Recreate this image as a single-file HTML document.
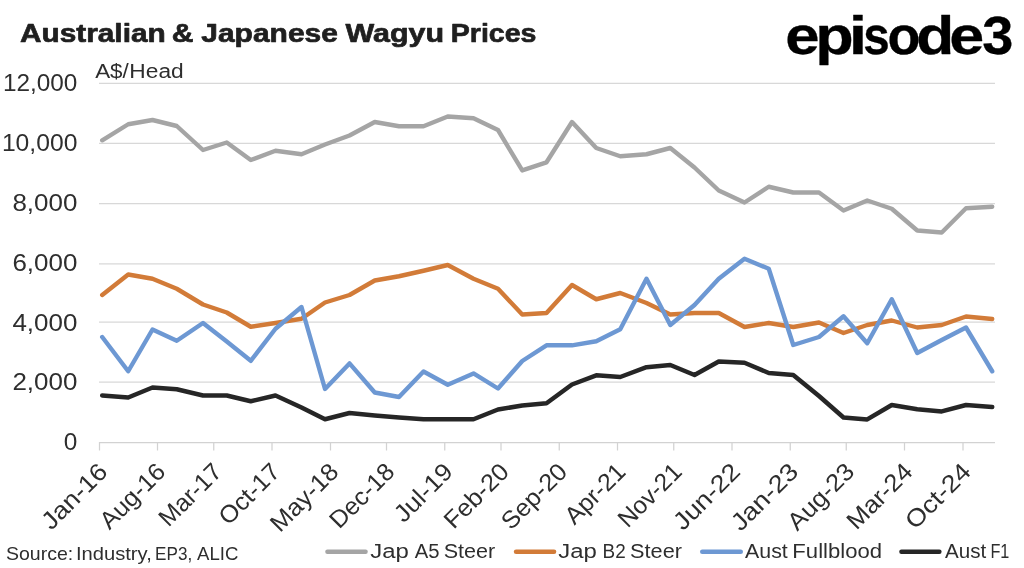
<!DOCTYPE html>
<html lang="en"><head><meta charset="utf-8"><title>Australian &amp; Japanese Wagyu Prices</title>
<style>html,body{margin:0;padding:0;background:#fff;}body{width:1024px;height:568px;overflow:hidden;}svg{display:block;}text{font-family:"Liberation Sans",sans-serif;fill:#2e2e2e;}.b{font-weight:bold;}.ln{fill:none;stroke-linejoin:round;stroke-linecap:round;}</style>
</head><body>
<svg width="1024" height="568" viewBox="0 0 1024 568">
<rect width="1024" height="568" fill="#ffffff"/>
<line x1="99" y1="83.4" x2="995" y2="83.4" stroke="#d8d8d8" stroke-width="1.25"/>
<line x1="99" y1="143.3" x2="995" y2="143.3" stroke="#d8d8d8" stroke-width="1.25"/>
<line x1="99" y1="203.5" x2="995" y2="203.5" stroke="#d8d8d8" stroke-width="1.25"/>
<line x1="99" y1="263.8" x2="995" y2="263.8" stroke="#d8d8d8" stroke-width="1.25"/>
<line x1="99" y1="322.0" x2="995" y2="322.0" stroke="#d8d8d8" stroke-width="1.25"/>
<line x1="99" y1="382.2" x2="995" y2="382.2" stroke="#d8d8d8" stroke-width="1.25"/>
<line x1="99" y1="442.5" x2="995" y2="442.5" stroke="#d2d2d2" stroke-width="1.25"/>
<line x1="99.5" y1="442" x2="99.5" y2="450.5" stroke="#d2d2d2" stroke-width="1.25"/>
<line x1="157.5" y1="442" x2="157.5" y2="450.5" stroke="#d2d2d2" stroke-width="1.25"/>
<line x1="213.75" y1="442" x2="213.75" y2="450.5" stroke="#d2d2d2" stroke-width="1.25"/>
<line x1="272" y1="442" x2="272" y2="450.5" stroke="#d2d2d2" stroke-width="1.25"/>
<line x1="330.5" y1="442" x2="330.5" y2="450.5" stroke="#d2d2d2" stroke-width="1.25"/>
<line x1="386.5" y1="442" x2="386.5" y2="450.5" stroke="#d2d2d2" stroke-width="1.25"/>
<line x1="444.75" y1="442" x2="444.75" y2="450.5" stroke="#d2d2d2" stroke-width="1.25"/>
<line x1="501" y1="442" x2="501" y2="450.5" stroke="#d2d2d2" stroke-width="1.25"/>
<line x1="559.25" y1="442" x2="559.25" y2="450.5" stroke="#d2d2d2" stroke-width="1.25"/>
<line x1="617.5" y1="442" x2="617.5" y2="450.5" stroke="#d2d2d2" stroke-width="1.25"/>
<line x1="673.75" y1="442" x2="673.75" y2="450.5" stroke="#d2d2d2" stroke-width="1.25"/>
<line x1="732" y1="442" x2="732" y2="450.5" stroke="#d2d2d2" stroke-width="1.25"/>
<line x1="790.25" y1="442" x2="790.25" y2="450.5" stroke="#d2d2d2" stroke-width="1.25"/>
<line x1="846.25" y1="442" x2="846.25" y2="450.5" stroke="#d2d2d2" stroke-width="1.25"/>
<line x1="904.5" y1="442" x2="904.5" y2="450.5" stroke="#d2d2d2" stroke-width="1.25"/>
<line x1="963" y1="442" x2="963" y2="450.5" stroke="#d2d2d2" stroke-width="1.25"/>
<text x="77.4" y="91" font-size="24.4" text-anchor="end" textLength="74.5" lengthAdjust="spacingAndGlyphs">12,000</text>
<text x="77.4" y="150.8" font-size="24.4" text-anchor="end" textLength="75.5" lengthAdjust="spacingAndGlyphs">10,000</text>
<text x="77.4" y="211" font-size="24.4" text-anchor="end" textLength="65" lengthAdjust="spacingAndGlyphs">8,000</text>
<text x="77.4" y="271" font-size="24.4" text-anchor="end" textLength="65" lengthAdjust="spacingAndGlyphs">6,000</text>
<text x="77.4" y="331" font-size="24.4" text-anchor="end" textLength="65" lengthAdjust="spacingAndGlyphs">4,000</text>
<text x="77.4" y="389.8" font-size="24.4" text-anchor="end" textLength="65" lengthAdjust="spacingAndGlyphs">2,000</text>
<text x="77.4" y="449.5" font-size="24.4" text-anchor="end">0</text>
<text transform="translate(109.00,473.2) rotate(-45)" font-size="24.4" text-anchor="end" textLength="81.6" lengthAdjust="spacingAndGlyphs">Jan-16</text>
<text transform="translate(167.00,473.2) rotate(-45)" font-size="24.4" text-anchor="end" textLength="81.2" lengthAdjust="spacingAndGlyphs">Aug-16</text>
<text transform="translate(223.25,473.2) rotate(-45)" font-size="24.4" text-anchor="end" textLength="77.3" lengthAdjust="spacingAndGlyphs">Mar-17</text>
<text transform="translate(281.50,473.2) rotate(-45)" font-size="24.4" text-anchor="end" textLength="75.0" lengthAdjust="spacingAndGlyphs">Oct-17</text>
<text transform="translate(340.00,473.2) rotate(-45)" font-size="24.4" text-anchor="end" textLength="84.8" lengthAdjust="spacingAndGlyphs">May-18</text>
<text transform="translate(396.00,473.2) rotate(-45)" font-size="24.4" text-anchor="end" textLength="80.1" lengthAdjust="spacingAndGlyphs">Dec-18</text>
<text transform="translate(454.25,473.2) rotate(-45)" font-size="24.4" text-anchor="end" textLength="71.4" lengthAdjust="spacingAndGlyphs">Jul-19</text>
<text transform="translate(510.50,473.2) rotate(-45)" font-size="24.4" text-anchor="end" textLength="80.3" lengthAdjust="spacingAndGlyphs">Feb-20</text>
<text transform="translate(568.75,473.2) rotate(-45)" font-size="24.4" text-anchor="end" textLength="81.7" lengthAdjust="spacingAndGlyphs">Sep-20</text>
<text transform="translate(627.00,473.2) rotate(-45)" font-size="24.4" text-anchor="end" textLength="74.2" lengthAdjust="spacingAndGlyphs">Apr-21</text>
<text transform="translate(683.25,473.2) rotate(-45)" font-size="24.4" text-anchor="end" textLength="78.6" lengthAdjust="spacingAndGlyphs">Nov-21</text>
<text transform="translate(741.50,473.2) rotate(-45)" font-size="24.4" text-anchor="end" textLength="82.6" lengthAdjust="spacingAndGlyphs">Jun-22</text>
<text transform="translate(799.75,473.2) rotate(-45)" font-size="24.4" text-anchor="end" textLength="83.6" lengthAdjust="spacingAndGlyphs">Jan-23</text>
<text transform="translate(855.75,473.2) rotate(-45)" font-size="24.4" text-anchor="end" textLength="82.7" lengthAdjust="spacingAndGlyphs">Aug-23</text>
<text transform="translate(914.00,473.2) rotate(-45)" font-size="24.4" text-anchor="end" textLength="81.3" lengthAdjust="spacingAndGlyphs">Mar-24</text>
<text transform="translate(972.50,473.2) rotate(-45)" font-size="24.4" text-anchor="end" textLength="81.2" lengthAdjust="spacingAndGlyphs">Oct-24</text>
<polyline class="ln" points="102.20,140.30 128.20,124.25 152.50,120.00 176.75,126.00 203.00,150.00 226.75,142.50 250.75,160.00 275.50,150.75 301.50,154.25 325.00,144.50 349.50,135.50 374.75,122.00 399.00,126.25 423.50,126.25 447.75,116.50 473.50,118.25 498.00,130.00 522.25,170.40 546.50,162.30 572.00,122.00 596.25,148.00 620.25,156.25 646.50,154.25 670.30,148.00 694.50,167.50 718.75,190.50 744.50,202.50 768.75,186.75 793.25,192.50 819.00,192.50 843.50,210.50 867.25,200.50 891.75,208.75 917.25,230.50 941.75,232.50 966.00,208.25 992.20,206.70" stroke="#a5a5a5" stroke-width="4.4"/>
<polyline class="ln" points="102.20,295.00 128.20,274.50 152.50,278.75 176.75,288.75 203.00,304.50 226.75,312.50 250.75,326.75 275.50,323.00 301.50,318.75 325.00,302.50 349.50,295.00 374.75,280.50 399.00,276.25 423.50,270.75 447.75,265.00 473.50,278.75 498.00,288.75 522.25,314.50 546.50,313.00 572.00,285.00 596.25,299.25 620.25,293.00 646.50,303.00 670.30,314.50 694.50,313.00 718.75,313.00 744.50,327.00 768.75,323.00 793.25,327.00 819.00,322.50 843.50,333.00 867.25,325.00 891.75,320.50 917.25,327.50 941.75,325.00 966.00,316.50 992.20,319.00" stroke="#d27b38" stroke-width="4.4"/>
<polyline class="ln" points="102.20,337.00 128.20,371.25 152.50,329.50 176.75,340.75 203.00,323.00 226.75,341.50 250.75,360.80 275.50,328.75 301.50,307.00 325.00,389.00 349.50,363.40 374.75,392.50 399.00,397.00 423.50,371.50 447.75,384.70 473.50,373.40 498.00,388.50 522.25,361.00 546.50,345.30 572.00,345.30 596.25,341.25 620.25,329.25 646.50,278.75 670.30,325.00 694.50,305.00 718.75,278.75 744.50,258.75 768.75,268.75 793.25,345.00 819.00,337.00 843.50,316.25 867.25,343.25 891.75,299.25 917.25,353.00 941.75,340.00 966.00,327.50 992.20,371.25" stroke="#6d98d3" stroke-width="4.4"/>
<polyline class="ln" points="102.20,395.40 128.20,397.50 152.50,387.50 176.75,389.25 203.00,395.50 226.75,395.50 250.75,401.25 275.50,395.50 301.50,407.50 325.00,419.25 349.50,413.00 374.75,415.50 399.00,417.50 423.50,419.25 447.75,419.25 473.50,419.25 498.00,409.50 522.25,405.50 546.50,403.25 572.00,384.50 596.25,375.30 620.25,377.00 646.50,367.20 670.30,365.00 694.50,375.00 718.75,361.50 744.50,362.70 768.75,373.00 793.25,375.00 819.00,396.00 843.50,417.50 867.25,419.40 891.75,405.00 917.25,409.25 941.75,411.40 966.00,405.00 992.20,407.00" stroke="#262626" stroke-width="4.5"/>
<text class="b" y="41.8" font-size="26.6" style="fill:#1f1f1f" stroke="#1f1f1f" stroke-width="0.7" stroke-linejoin="round"><tspan x="19.96" textLength="145.79" lengthAdjust="spacingAndGlyphs">Australian</tspan> <tspan x="171.78" textLength="21.77" lengthAdjust="spacingAndGlyphs">&amp;</tspan> <tspan x="201.25" textLength="136.68" lengthAdjust="spacingAndGlyphs">Japanese</tspan> <tspan x="345.47" textLength="98.61" lengthAdjust="spacingAndGlyphs">Wagyu</tspan> <tspan x="450.79" textLength="85.68" lengthAdjust="spacingAndGlyphs">Prices</tspan></text>
<text class="b" y="54.3" font-size="53.5" style="fill:#000" stroke="#000" stroke-width="0.3" stroke-linejoin="round"><tspan x="785.19" textLength="34.32" lengthAdjust="spacingAndGlyphs">e</tspan><tspan x="815.15" textLength="38.43" lengthAdjust="spacingAndGlyphs">p</tspan><tspan x="848.67" textLength="18.43" lengthAdjust="spacingAndGlyphs">i</tspan><tspan x="863.23" textLength="26.42" lengthAdjust="spacingAndGlyphs">s</tspan><tspan x="887.40" textLength="32.91" lengthAdjust="spacingAndGlyphs">o</tspan><tspan x="916.24" textLength="38.06" lengthAdjust="spacingAndGlyphs">d</tspan><tspan x="949.34" textLength="35.01" lengthAdjust="spacingAndGlyphs">e</tspan><tspan x="982.22" textLength="31.10" lengthAdjust="spacingAndGlyphs">3</tspan></text>
<text y="78.1" font-size="19.6"><tspan x="95.16" textLength="33.64" lengthAdjust="spacingAndGlyphs">A$/</tspan><tspan x="129.34" textLength="54.33" lengthAdjust="spacingAndGlyphs">Head</tspan></text>
<text y="560.2" font-size="17.8"><tspan x="6.01" textLength="67.27" lengthAdjust="spacingAndGlyphs">Source:</tspan> <tspan x="75.92" textLength="75.85" lengthAdjust="spacingAndGlyphs">Industry,</tspan> <tspan x="155.10" textLength="37.04" lengthAdjust="spacingAndGlyphs">EP3,</tspan> <tspan x="197.06" textLength="41.40" lengthAdjust="spacingAndGlyphs">ALIC</tspan></text>
<line class="ln" x1="327.45" y1="551.7" x2="365.55" y2="551.7" stroke="#a5a5a5" stroke-width="4.5"/>
<text y="557.9" font-size="19.4"><tspan x="370.23" textLength="38.58" lengthAdjust="spacingAndGlyphs">Jap</tspan> <tspan x="414.76" textLength="24.79" lengthAdjust="spacingAndGlyphs">A5</tspan> <tspan x="443.72" textLength="51.54" lengthAdjust="spacingAndGlyphs">Steer</tspan></text>
<line class="ln" x1="516.05" y1="551.7" x2="554.05" y2="551.7" stroke="#d27b38" stroke-width="4.5"/>
<text y="557.9" font-size="19.4"><tspan x="558.23" textLength="38.58" lengthAdjust="spacingAndGlyphs">Jap</tspan> <tspan x="602.55" textLength="23.10" lengthAdjust="spacingAndGlyphs">B2</tspan> <tspan x="630.11" textLength="51.85" lengthAdjust="spacingAndGlyphs">Steer</tspan></text>
<line class="ln" x1="702.25" y1="551.7" x2="740.75" y2="551.7" stroke="#6d98d3" stroke-width="4.5"/>
<text y="557.9" font-size="19.4"><tspan x="745.06" textLength="42.70" lengthAdjust="spacingAndGlyphs">Aust</tspan> <tspan x="792.39" textLength="89.64" lengthAdjust="spacingAndGlyphs">Fullblood</tspan></text>
<line class="ln" x1="901.45" y1="551.7" x2="939.35" y2="551.7" stroke="#262626" stroke-width="4.5"/>
<text y="557.9" font-size="19.4"><tspan x="945.06" textLength="41.19" lengthAdjust="spacingAndGlyphs">Aust</tspan> <tspan x="990.47" textLength="18.92" lengthAdjust="spacingAndGlyphs">F1</tspan></text>
</svg>
</body></html>
